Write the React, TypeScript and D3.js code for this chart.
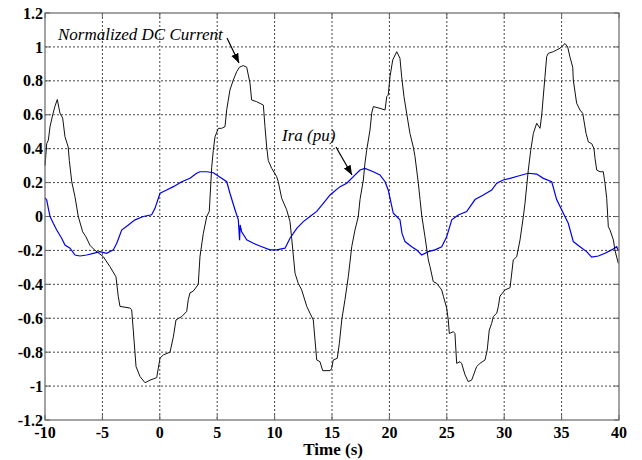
import React from "react";
import * as d3 from "d3";

const xTicks = [-10, -5, 0, 5, 10, 15, 20, 25, 30, 35, 40];
const yTicks = [-1.2, -1, -0.8, -0.6, -0.4, -0.2, 0, 0.2, 0.4, 0.6, 0.8, 1, 1.2];

const dcT = [-10, -9.85, -9.71, -9.56, -9.33, -9.13, -8.93, -8.7, -8.46, -8.26, -7.98, -7.88, -7.67, -7.39, -7.1, -6.72, -6.43, -6.08, -5.64, -4.92, -4.34, -3.82, -3.62, -3.47, -2.6, -2.45, -2.31, -2.07, -1.72, -1.29, -0.85, -0.27, 0.02, 0.31, 0.89, 1.18, 1.41, 1.91, 2.34, 2.48, 2.63, 2.92, 3.35, 3.5, 3.79, 4.09, 4.31, 4.52, 4.66, 4.81, 5.1, 5.39, 5.68, 5.83, 6.11, 6.4, 6.7, 6.93, 7.27, 7.57, 7.86, 8.0, 8.44, 9.02, 9.16, 9.31, 9.45, 9.75, 10.18, 10.32, 10.62, 11.05, 11.34, 11.49, 11.78, 12.06, 12.36, 12.8, 13.08, 13.37, 13.52, 13.67, 13.95, 14.19, 14.83, 14.97, 15.11, 15.46, 15.64, 15.85, 16.13, 16.42, 16.72, 17.0, 17.29, 17.44, 17.73, 17.87, 18.02, 18.31, 18.46, 18.6, 19.18, 19.62, 19.77, 19.9, 20.05, 20.29, 20.64, 20.92, 21.07, 21.27, 21.5, 21.79, 22.08, 22.23, 22.52, 22.67, 22.81, 23.1, 23.39, 23.54, 23.82, 24.12, 24.56, 24.7, 24.99, 25.13, 25.22, 25.57, 25.71, 25.86, 26.15, 26.29, 26.59, 26.87, 27.17, 27.6, 27.89, 28.33, 28.52, 28.7, 28.91, 29.05, 29.35, 29.49, 29.63, 30.07, 30.51, 30.79, 31.09, 31.38, 31.67, 31.81, 32.1, 32.31, 32.54, 32.83, 33.12, 33.27, 33.55, 33.7, 33.84, 34.28, 34.57, 34.86, 35.3, 35.53, 35.73, 35.97, 36.02, 36.31, 36.6, 36.84, 37.13, 37.33, 37.62, 37.82, 37.91, 38.06, 38.34, 38.63, 38.78, 38.93, 39.07, 39.22, 39.51, 39.65, 39.94];
const dcV = [0.3, 0.43, 0.45, 0.53, 0.6, 0.65, 0.69, 0.61, 0.58, 0.47, 0.41, 0.33, 0.205, 0.117, 0.0, -0.09, -0.12, -0.17, -0.2, -0.237, -0.296, -0.355, -0.47, -0.53, -0.54, -0.55, -0.67, -0.885, -0.944, -0.98, -0.965, -0.95, -0.835, -0.816, -0.8, -0.71, -0.61, -0.59, -0.56, -0.49, -0.45, -0.44, -0.4, -0.237, -0.1, 0.0, 0.03, 0.29, 0.39, 0.47, 0.52, 0.52, 0.53, 0.63, 0.746, 0.805, 0.854, 0.88, 0.89, 0.88, 0.785, 0.687, 0.677, 0.657, 0.53, 0.41, 0.33, 0.284, 0.235, 0.205, 0.107, 0.04, -0.03, -0.13, -0.335, -0.394, -0.433, -0.53, -0.57, -0.61, -0.728, -0.846, -0.856, -0.909, -0.909, -0.895, -0.846, -0.836, -0.748, -0.61, -0.49, -0.355, -0.178, -0.08, 0.0, 0.1, 0.215, 0.314, 0.39, 0.51, 0.61, 0.648, 0.638, 0.628, 0.707, 0.716, 0.824, 0.923, 0.972, 0.933, 0.824, 0.707, 0.61, 0.49, 0.41, 0.353, 0.196, 0.1, 0.009, -0.12, -0.256, -0.296, -0.384, -0.394, -0.433, -0.47, -0.54, -0.61, -0.69, -0.679, -0.69, -0.866, -0.856, -0.866, -0.934, -0.974, -0.964, -0.885, -0.866, -0.846, -0.787, -0.67, -0.63, -0.59, -0.57, -0.53, -0.47, -0.433, -0.42, -0.256, -0.237, -0.138, 0.0, 0.078, 0.274, 0.39, 0.49, 0.55, 0.52, 0.6, 0.824, 0.943, 0.962, 0.972, 0.982, 0.992, 1.02, 1.0, 0.94, 0.88, 0.805, 0.668, 0.628, 0.608, 0.49, 0.44, 0.43, 0.4, 0.343, 0.274, 0.264, 0.264, 0.196, 0.107, -0.06, -0.08, -0.138, -0.2, -0.276];

const iraT = [-10, -9.85, -9.71, -9.56, -9.28, -8.98, -8.55, -8.26, -7.82, -7.39, -6.95, -6.37, -5.79, -5.21, -4.63, -4.05, -3.75, -3.32, -2.74, -2.16, -1.44, -0.71, -0.42, 0.02, 0.6, 1.18, 1.91, 2.63, 3.21, 3.5, 4.09, 4.66, 4.96, 5.83, 6.11, 6.55, 6.84, 6.95, 7.0, 7.13, 7.57, 8.15, 8.88, 9.6, 10.18, 10.91, 11.34, 11.93, 12.5, 13.08, 13.67, 14.24, 14.83, 15.7, 16.28, 16.86, 17.44, 17.87, 18.6, 19.18, 19.62, 19.9, 20.34, 20.92, 21.1, 21.36, 21.94, 22.38, 22.81, 23.39, 23.97, 24.56, 24.99, 25.43, 26.0, 26.73, 27.46, 28.18, 28.91, 29.35, 29.92, 30.51, 31.23, 32.1, 32.83, 33.41, 34.14, 34.57, 35.15, 35.58, 36.02, 36.6, 37.18, 37.62, 38.2, 38.78, 39.36, 39.8, 39.94];
const iraV = [0.11, 0.097, 0.048, 0.0, -0.04, -0.08, -0.128, -0.168, -0.187, -0.227, -0.233, -0.227, -0.217, -0.207, -0.217, -0.197, -0.158, -0.08, -0.05, -0.02, 0.0, 0.01, 0.048, 0.137, 0.156, 0.176, 0.205, 0.225, 0.255, 0.264, 0.264, 0.258, 0.245, 0.205, 0.137, 0.04, -0.02, -0.14, -0.05, -0.09, -0.138, -0.158, -0.178, -0.197, -0.197, -0.187, -0.128, -0.07, -0.03, 0.0, 0.03, 0.078, 0.127, 0.176, 0.196, 0.235, 0.274, 0.284, 0.264, 0.245, 0.205, 0.156, 0.019, -0.02, -0.1, -0.148, -0.178, -0.197, -0.227, -0.207, -0.197, -0.178, -0.12, -0.02, 0.009, 0.029, 0.1, 0.127, 0.156, 0.196, 0.215, 0.225, 0.239, 0.255, 0.25, 0.225, 0.205, 0.1, 0.019, -0.04, -0.148, -0.178, -0.207, -0.24, -0.233, -0.217, -0.197, -0.178, -0.2];

const fmt = (v: number) => String(Math.round(v * 10) / 10);

export default function App() {
  const L = 45, R = 619, T = 13, B = 420;
  const x = d3.scaleLinear().domain([-10, 40]).range([L, R]);
  const y = d3.scaleLinear().domain([-1.2, 1.2]).range([B, T]);
  const line = d3.line<[number, number]>().x(d => x(d[0])).y(d => y(d[1]));
  const dc = line(dcT.map((t, i) => [t, dcV[i]] as [number, number])) || "";
  const ira = line(iraT.map((t, i) => [t, iraV[i]] as [number, number])) || "";
  const tickFont = { fontFamily: "'Liberation Serif', 'Times New Roman', serif", fontWeight: 700, fontSize: 16 };
  const annFont = { fontFamily: "'Liberation Serif', 'Times New Roman', serif", fontStyle: "italic", fontSize: 17 };
  return (
    <svg width={642} height={460} style={{ position: "absolute", left: 0, top: 0, background: "#fff" }}>
      <defs>
        <marker id="ah" viewBox="0 0 10 10" refX={10} refY={5} markerWidth={8} markerHeight={8} orient="auto">
          <path d="M0,1 L10,5 L0,9 Z" fill="#000" />
        </marker>
      </defs>
      <rect x={0} y={0} width={642} height={460} fill="#fff" />
      {xTicks.slice(1, -1).map(t => (
        <line key={"gx" + t} x1={x(t)} x2={x(t)} y1={T} y2={B} stroke="#444" strokeWidth={1} strokeDasharray="2,2" />
      ))}
      {yTicks.slice(1, -1).map(t => (
        <line key={"gy" + t} x1={L} x2={R} y1={y(t)} y2={y(t)} stroke="#444" strokeWidth={1} strokeDasharray="2,2" />
      ))}
      {xTicks.map(t => (
        <g key={"tx" + t}>
          <line x1={x(t)} x2={x(t)} y1={B} y2={B - 5} stroke="#666" />
          <line x1={x(t)} x2={x(t)} y1={T} y2={T + 5} stroke="#666" />
          <text x={x(t)} y={438} textAnchor="middle" {...tickFont}>{fmt(t)}</text>
        </g>
      ))}
      {yTicks.map(t => (
        <g key={"ty" + t}>
          <line x1={L} x2={L + 5} y1={y(t)} y2={y(t)} stroke="#666" />
          <line x1={R} x2={R - 5} y1={y(t)} y2={y(t)} stroke="#666" />
          <text x={43} y={y(t)} dy="0.35em" textAnchor="end" {...tickFont}>{fmt(t)}</text>
        </g>
      ))}
      <path d={ira} fill="none" stroke="#0000ee" strokeWidth={1.2} />
      <path d={dc} fill="none" stroke="#111" strokeWidth={1} />
      <rect x={L} y={T} width={R - L} height={B - T} fill="none" stroke="#666" strokeWidth={1.2} />
      <text x={x(15.1)} y={455} textAnchor="middle" {...tickFont} fontSize={17}>Time (s)</text>
      <text x={58} y={40} {...annFont}>Normalized DC Current</text>
      <line x1={227} y1={38} x2={239} y2={63} stroke="#000" strokeWidth={1.2} markerEnd="url(#ah)" />
      <text x={282} y={141} {...annFont}>Ira (pu)</text>
      <line x1={336} y1={147} x2={352} y2={175} stroke="#000" strokeWidth={1.2} markerEnd="url(#ah)" />
    </svg>
  );
}
